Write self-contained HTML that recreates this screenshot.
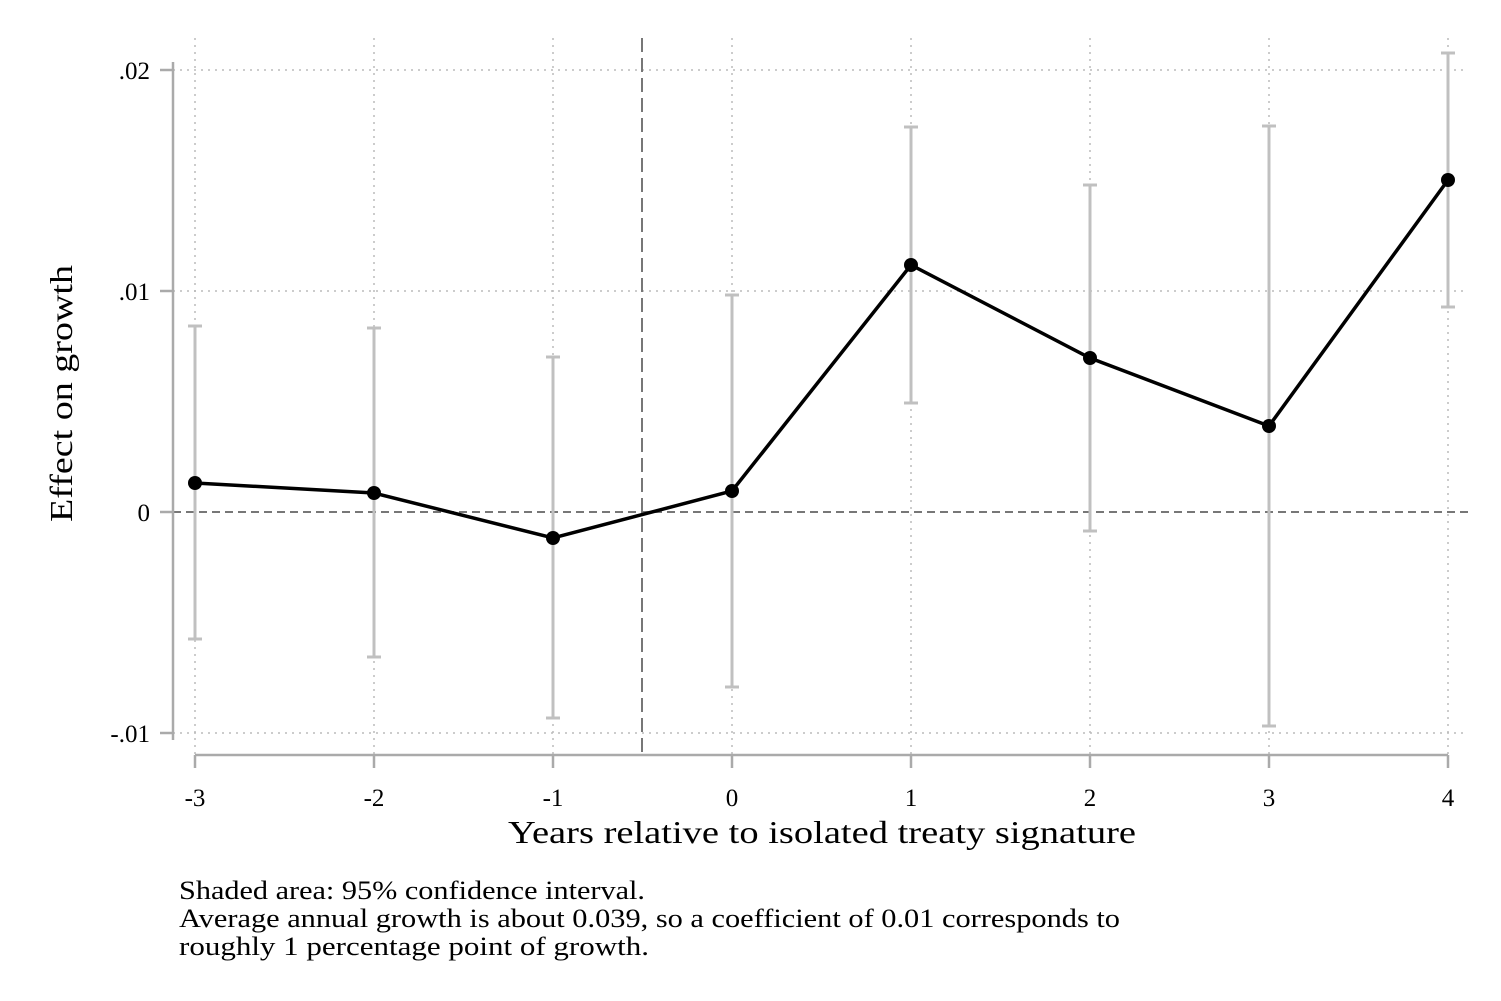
<!DOCTYPE html>
<html><head><meta charset="utf-8"><style>body{margin:0;background:#fff}svg{display:block}text{font-family:"Liberation Serif",serif;fill:#000}</style></head>
<body>
<svg width="1501" height="1001" xmlns="http://www.w3.org/2000/svg">
<rect width="1501" height="1001" fill="#fff"/>
<g stroke="#bbb" stroke-width="1.5" stroke-dasharray="2,5">
<line x1="173" y1="70" x2="1468" y2="70"/><line x1="173" y1="291" x2="1468" y2="291"/><line x1="173" y1="733" x2="1468" y2="733"/>
<line x1="195" y1="38" x2="195" y2="755"/><line x1="374" y1="38" x2="374" y2="755"/><line x1="553" y1="38" x2="553" y2="755"/><line x1="732" y1="38" x2="732" y2="755"/><line x1="911" y1="38" x2="911" y2="755"/><line x1="1090" y1="38" x2="1090" y2="755"/><line x1="1269" y1="38" x2="1269" y2="755"/><line x1="1448" y1="38" x2="1448" y2="755"/>
</g>
<line x1="173" y1="512" x2="1468" y2="512" stroke="#777" stroke-width="2" stroke-dasharray="8,5"/>
<line x1="642" y1="38" x2="642" y2="755" stroke="#777" stroke-width="2" stroke-dasharray="14,6"/>
<g stroke="#aaa" stroke-width="2.5">
<line x1="173" y1="62" x2="173" y2="740"/><line x1="160" y1="70" x2="173" y2="70"/><line x1="160" y1="291" x2="173" y2="291"/><line x1="160" y1="512" x2="173" y2="512"/><line x1="160" y1="733" x2="173" y2="733"/>
<line x1="195" y1="755" x2="1448" y2="755"/>
<line x1="195" y1="755" x2="195" y2="768"/><line x1="374" y1="755" x2="374" y2="768"/><line x1="553" y1="755" x2="553" y2="768"/><line x1="732" y1="755" x2="732" y2="768"/><line x1="911" y1="755" x2="911" y2="768"/><line x1="1090" y1="755" x2="1090" y2="768"/><line x1="1269" y1="755" x2="1269" y2="768"/><line x1="1448" y1="755" x2="1448" y2="768"/>
</g>
<g stroke="#c0c0c0" stroke-width="3">
<path d="M195 326V639M188 326H202M188 639H202"/>
<path d="M374 328V657M367 328H381M367 657H381"/>
<path d="M553 357V718M546 357H560M546 718H560"/>
<path d="M732 295V687M725 295H739M725 687H739"/>
<path d="M911 127V403M904 127H918M904 403H918"/>
<path d="M1090 185V531M1083 185H1097M1083 531H1097"/>
<path d="M1269 126V726M1262 126H1276M1262 726H1276"/>
<path d="M1448 53V307M1441 53H1455M1441 307H1455"/>
</g>
<polyline points="195,483 374,493 553,538 732,491 911,265 1090,358 1269,426 1448,180" fill="none" stroke="#000" stroke-width="3.5"/>
<g fill="#000"><circle cx="195" cy="483" r="7"/><circle cx="374" cy="493" r="7"/><circle cx="553" cy="538" r="7"/><circle cx="732" cy="491" r="7"/><circle cx="911" cy="265" r="7"/><circle cx="1090" cy="358" r="7"/><circle cx="1269" cy="426" r="7"/><circle cx="1448" cy="180" r="7"/></g>
<g font-size="25" text-anchor="end">
<text x="150" y="79">.02</text><text x="150" y="300">.01</text><text x="150" y="521">0</text><text x="150" y="742">-.01</text>
</g>
<g font-size="25" text-anchor="middle">
<text x="195" y="806">-3</text><text x="374" y="806">-2</text><text x="553" y="806">-1</text><text x="732" y="806">0</text><text x="911" y="806">1</text><text x="1090" y="806">2</text><text x="1269" y="806">3</text><text x="1448" y="806">4</text>
</g>
<text x="508" y="843" font-size="32" textLength="628" lengthAdjust="spacingAndGlyphs">Years relative to isolated treaty signature</text>
<text transform="translate(72,522) rotate(-90)" font-size="32" textLength="257" lengthAdjust="spacingAndGlyphs">Effect on growth</text>
<g font-size="26">
<text x="179" y="899" textLength="466" lengthAdjust="spacingAndGlyphs">Shaded area: 95% confidence interval.</text>
<text x="179" y="927" textLength="941" lengthAdjust="spacingAndGlyphs">Average annual growth is about 0.039, so a coefficient of 0.01 corresponds to</text>
<text x="179" y="955" textLength="470" lengthAdjust="spacingAndGlyphs">roughly 1 percentage point of growth.</text>
</g>
</svg>
</body></html>
